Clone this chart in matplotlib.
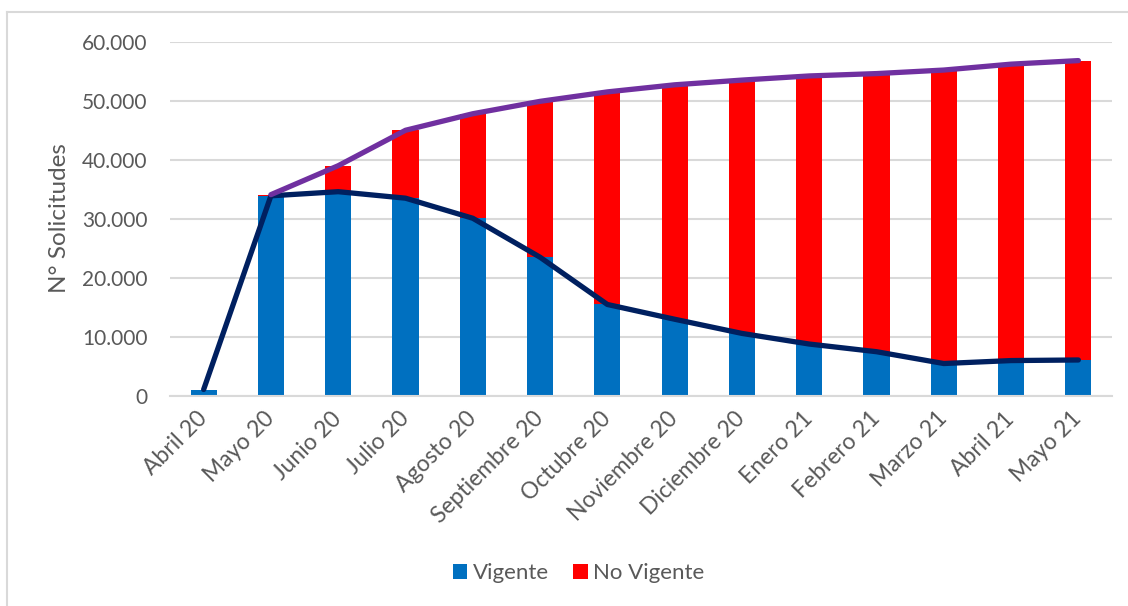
import matplotlib
matplotlib.use("Agg")
import matplotlib.pyplot as plt
from matplotlib.lines import Line2D
import numpy as np

categories = ["Abril 20", "Mayo 20", "Junio 20", "Julio 20", "Agosto 20", "Septiembre 20",
              "Octubre 20", "Noviembre 20", "Diciembre 20", "Enero 21", "Febrero 21",
              "Marzo 21", "Abril 21", "Mayo 21"]
vigente = [1100, 33900, 34600, 33500, 30100, 23500, 15500, 13000, 10600, 8800, 7500, 5500, 6000, 6100]
no_vigente = [0, 200, 4400, 11500, 17700, 26400, 36000, 39700, 42900, 45400, 47100, 49700, 50200, 50700]
yticks = [0, 10000, 20000, 30000, 40000, 50000, 60000]
ytick_labels = ["0", "10.000", "20.000", "30.000", "40.000", "50.000", "60.000"]

plt.rcParams['font.family'] = ['Lato', 'DejaVu Sans']
TXT = "#595959"
GRID = "#d9d9d9"

fig = plt.figure(figsize=(11.28, 6.06), dpi=100)
ax = fig.add_axes([170/1128, 1-396/606, (1112-170)/1128, (396-41.7)/606])

x = np.arange(len(categories))
v = np.array(vigente, dtype=float)
nv = np.array(no_vigente, dtype=float)
total = v + nv

ax.bar(x, v, width=0.39, color="#0070C0", label="Vigente", zorder=2)
ax.bar(x, nv, width=0.39, bottom=v, color="#FF0000", label="No Vigente", zorder=2)

ax.plot(x, v, color="#002060", lw=3.8, solid_capstyle="round", solid_joinstyle="round", zorder=3)
ax.plot(x[1:], total[1:], color="#7030A0", lw=3.8, solid_capstyle="round", solid_joinstyle="round", zorder=3)

ax.set_xlim(-0.5, len(categories) - 0.5)
ax.set_ylim(0, 60000)
ax.set_yticks(yticks)
ax.set_yticklabels(ytick_labels)
ax.yaxis.grid(True, color=GRID, lw=1.5, zorder=0)
ax.set_axisbelow(True)
for s in ["top", "right", "left"]:
    ax.spines[s].set_visible(False)
ax.spines["bottom"].set_color(GRID)
ax.spines["bottom"].set_linewidth(1.5)
ax.tick_params(axis="y", length=0, pad=16, labelsize=15, labelcolor=TXT)
ax.tick_params(axis="x", length=0, pad=14, labelsize=16.5, labelcolor=TXT)
ax.set_xticks(x)
ax.set_xticklabels(categories, rotation=45, ha="right", rotation_mode="anchor", va="center")

fig.text(60/1128, 1-218/606, "N° Solicitudes", rotation=90, ha="center", va="center",
         fontsize=17.5, color=TXT)

leg = fig.legend(loc="center", bbox_to_anchor=(0.513, 1-573/606), ncol=2, frameon=False,
                 fontsize=16, handlelength=0.65, handleheight=0.65, handletextpad=0.25,
                 columnspacing=1.1, labelcolor=TXT)

# chart border (left and top visible)
fig.add_artist(Line2D([7/1128, 7/1128], [0, 1-12/606], transform=fig.transFigure, color=GRID, lw=1.5))
fig.add_artist(Line2D([7/1128, 1], [1-12/606, 1-12/606], transform=fig.transFigure, color=GRID, lw=1.5))

fig.savefig("out.png", dpi=100)
